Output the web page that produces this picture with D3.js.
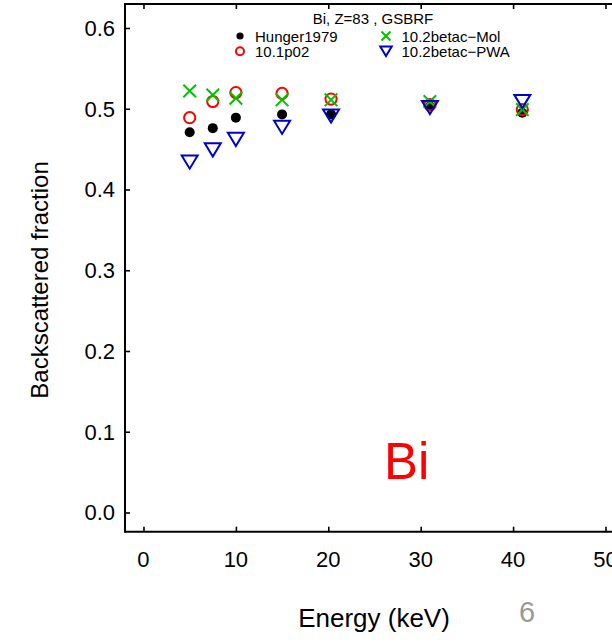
<!DOCTYPE html>
<html>
<head>
<meta charset="utf-8">
<script src="https://cdn.jsdelivr.net/npm/d3@7"></script>
<style>
  html, body { margin: 0; padding: 0; background: #fff; }
  svg { display: block; }
  text { font-family: "Liberation Sans", Arial, Helvetica, sans-serif; }
</style>
</head>
<body>
<svg id="chart" width="612" height="643"></svg>
<script>
// Electron backscattered fraction for bismuth vs. incident energy
const energies = [5, 7.5, 10, 15, 20.3, 31, 41];
const hunger1979 = [0.471, 0.476, 0.489, 0.493, 0.493, 0.503, 0.495];
const v101p02 = [0.489, 0.509, 0.520, 0.519, 0.512, 0.505, 0.499];
const betacMol = [0.522, 0.517, 0.513, 0.511, 0.511, 0.509, 0.499];
const betacPWA = [0.434, 0.449, 0.462, 0.477, 0.491, 0.5015, 0.509];

const xTicks = [0, 10, 20, 30, 40, 50];
const yTicks = [0.0, 0.1, 0.2, 0.3, 0.4, 0.5, 0.6];

const series = [
  { name: "Hunger1979", values: hunger1979, shape: "dot", color: "#000000" },
  { name: "10.1p02", values: v101p02, shape: "circle", color: "#ff0000" },
  { name: "10.2betac\u2212Mol", values: betacMol, shape: "cross", color: "#00c400" },
  { name: "10.2betac\u2212PWA", values: betacPWA, shape: "tri", color: "#0000cc" }
];

const svg = d3.select("#chart");

const frameLeft = 125, frameRight = 642, frameTop = 4, frameBottom = 531.7;
const x = d3.scaleLinear().domain([-2, 54]).range([frameLeft, frameLeft + 56 * 9.24]);
const y = d3.scaleLinear().domain([0, 0.6]).range([512.5, 28]);

// axes frame with inward ticks
const axisStyle = g => {
  g.select(".domain").attr("stroke", "#000").attr("stroke-width", 2);
  g.selectAll(".tick line").attr("stroke", "#000").attr("stroke-width", 1.6);
};

const gx = svg.append("g").attr("transform", `translate(0,${frameBottom})`)
  .call(d3.axisTop(x).tickValues(xTicks).tickSize(5).tickSizeOuter(0).tickFormat(""));
gx.call(axisStyle);
gx.select(".domain").attr("d", `M${frameLeft},0H${frameRight}`);

const gxTop = svg.append("g").attr("transform", `translate(0,${frameTop})`)
  .call(d3.axisBottom(x).tickValues(xTicks).tickSize(5).tickSizeOuter(0).tickFormat(""));
gxTop.call(axisStyle);
gxTop.select(".domain").attr("d", `M${frameLeft},0H${frameRight}`);

const gy = svg.append("g").attr("transform", `translate(${frameLeft},0)`)
  .call(d3.axisRight(y).tickValues(yTicks).tickSize(5).tickSizeOuter(0).tickFormat(""));
gy.call(axisStyle);
gy.select(".domain").attr("d", `M0,${frameTop - 1}V${frameBottom + 1}`);

// tick labels
svg.append("g").selectAll("text").data(xTicks).join("text")
  .attr("x", d => x(d)).attr("y", 567)
  .attr("text-anchor", "middle").attr("font-size", 22).attr("fill", "#000")
  .text(d => d);

svg.append("g").selectAll("text").data(yTicks).join("text")
  .attr("x", 115).attr("y", d => y(d)).attr("dy", "0.36em")
  .attr("text-anchor", "end").attr("font-size", 22).attr("fill", "#000")
  .text(d => d.toFixed(1));

// axis titles
svg.append("text").attr("x", 374).attr("y", 627)
  .attr("text-anchor", "middle").attr("font-size", 26).text("Energy (keV)");
svg.append("text").attr("transform", "translate(48,280) rotate(-90)")
  .attr("text-anchor", "middle").attr("font-size", 24).text("Backscattered fraction");

// marker drawing
function drawMarker(g, shape, color, s) {
  if (shape === "dot") {
    g.append("circle").attr("r", 5 * s).attr("fill", color);
  } else if (shape === "circle") {
    g.append("circle").attr("r", 5.6 * s).attr("fill", "none")
      .attr("stroke", color).attr("stroke-width", 2);
  } else if (shape === "cross") {
    const h = 6.3 * s;
    g.append("path").attr("d", `M${-h},${-h}L${h},${h}M${-h},${h}L${h},${-h}`)
      .attr("stroke", color).attr("stroke-width", 2).attr("fill", "none");
  } else if (shape === "tri") {
    const w = 8 * s, h = 6.6 * s;
    g.append("path").attr("d", `M${-w},${-h}L${w},${-h}L0,${h}Z`)
      .attr("stroke", color).attr("stroke-width", 2).attr("fill", "none")
      .attr("stroke-linejoin", "miter");
  }
}

// data points
series.forEach(sr => {
  const g = svg.append("g");
  energies.forEach((e, i) => {
    const m = g.append("g").attr("transform", `translate(${x(e)},${y(sr.values[i])})`);
    drawMarker(m, sr.shape, sr.color, 1);
  });
});

// legend
svg.append("text").attr("x", 373).attr("y", 23.5).attr("text-anchor", "middle")
  .attr("font-size", 15).text("Bi, Z=83 , GSBRF");

const legendPos = [
  { mx: 240, tx: 255, by: 41.5 },
  { mx: 240, tx: 255, by: 56.7 },
  { mx: 386, tx: 401.5, by: 41.5 },
  { mx: 386, tx: 401.5, by: 56.7 }
];
series.forEach((sr, i) => {
  const p = legendPos[i];
  const m = svg.append("g").attr("transform", `translate(${p.mx},${p.by - 5.5})`);
  drawMarker(m, sr.shape, sr.color, 0.72);
  svg.append("text").attr("x", p.tx).attr("y", p.by).attr("font-size", 15).text(sr.name);
});

// element label and page number
svg.append("text").attr("x", 384).attr("y", 479).attr("font-size", 51)
  .attr("fill", "#ff0000").text("Bi");
svg.append("text").attr("x", 527).attr("y", 622).attr("text-anchor", "middle")
  .attr("font-size", 29).attr("fill", "#999999").text("6");
</script>
</body>
</html>
